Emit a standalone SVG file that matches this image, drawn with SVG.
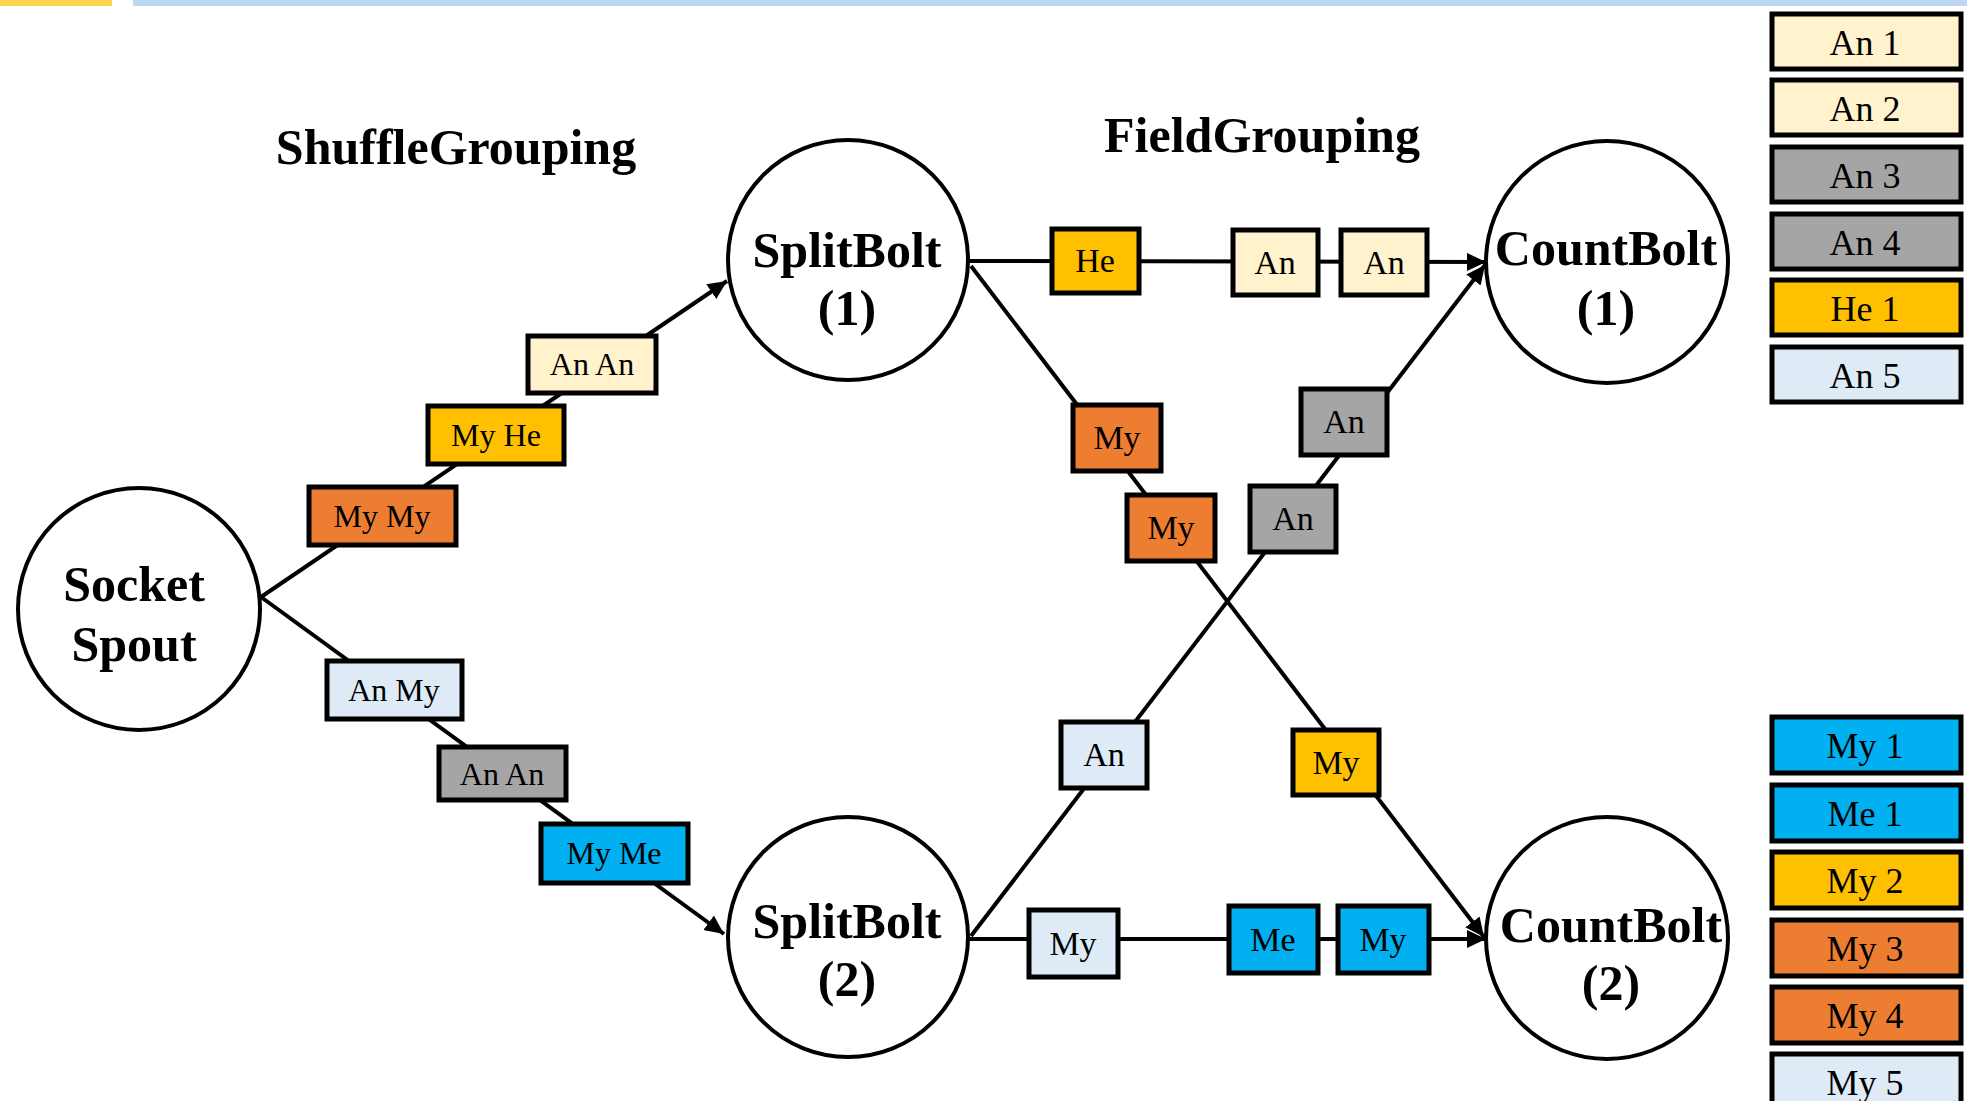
<svg xmlns="http://www.w3.org/2000/svg" width="1967" height="1101" viewBox="0 0 1967 1101">
<defs>
<marker id="arr" markerUnits="userSpaceOnUse" markerWidth="22" markerHeight="20" refX="19" refY="9" orient="auto">
<path d="M0,0 L19,9 L0,18 Z" fill="#000"/>
</marker>
<style>
.circ{fill:#fff;stroke:#000;stroke-width:4}
.box{stroke:#000;stroke-width:5}
.conn{stroke:#000;stroke-width:4;fill:none}
.big{font-family:"Liberation Serif",serif;font-weight:bold;font-size:50px;text-anchor:middle;fill:#000}
.lbl{font-family:"Liberation Serif",serif;font-size:32px;text-anchor:middle;fill:#000}
.lbl2{font-family:"Liberation Serif",serif;font-size:34px;text-anchor:middle;fill:#000}
.lbl3{font-family:"Liberation Serif",serif;font-size:36px;text-anchor:middle;fill:#000}
.cream{fill:#FFF2CC}.yel{fill:#FFC000}.org{fill:#ED7D31}.gry{fill:#A5A5A5}.lb{fill:#DEEBF7}.blu{fill:#00B0F0}
</style>
</defs>
<rect width="1967" height="1101" fill="#fff"/>
<rect x="0" y="0" width="112" height="6" fill="#FFD44F"/>
<rect x="133" y="0" width="1834" height="6" fill="#BDD7EE"/>

<text class="big" x="456" y="164">ShuffleGrouping</text>
<text class="big" x="1262" y="152">FieldGrouping</text>

<g id="connectors">
<line class="conn" x1="261" y1="597" x2="727" y2="281" marker-end="url(#arr)"/>
<line class="conn" x1="261" y1="597" x2="724" y2="934" marker-end="url(#arr)"/>
<line class="conn" x1="969" y1="261" x2="1486" y2="262" marker-end="url(#arr)"/>
<line class="conn" x1="971" y1="266" x2="1484" y2="937" marker-end="url(#arr)"/>
<line class="conn" x1="971" y1="936" x2="1485" y2="265" marker-end="url(#arr)"/>
<line class="conn" x1="969" y1="939" x2="1486" y2="939" marker-end="url(#arr)"/>
</g>

<g id="socket-spout"><circle class="circ" cx="139" cy="609" r="121"/><text class="big" x="134" y="601">Socket</text><text class="big" x="134" y="661">Spout</text></g>
<g id="splitbolt-1"><circle class="circ" cx="848" cy="260" r="120"/><text class="big" x="847" y="267">SplitBolt</text><text class="big" x="847" y="325">(1)</text></g>
<g id="splitbolt-2"><circle class="circ" cx="848" cy="937" r="120"/><text class="big" x="847" y="938">SplitBolt</text><text class="big" x="847" y="996">(2)</text></g>
<g id="countbolt-1"><circle class="circ" cx="1607" cy="262" r="121"/><text class="big" x="1606" y="265">CountBolt</text><text class="big" x="1606" y="325">(1)</text></g>
<g id="countbolt-2"><circle class="circ" cx="1607" cy="938" r="121"/><text class="big" x="1611" y="942">CountBolt</text><text class="big" x="1611" y="1000">(2)</text></g>

<g id="t-mymy"><rect class="box org" x="309" y="487" width="147" height="58"/><text class="lbl" x="382" y="527">My My</text></g>
<g id="t-myhe"><rect class="box yel" x="428" y="406" width="136" height="58"/><text class="lbl" x="496" y="446">My He</text></g>
<g id="t-anan1"><rect class="box cream" x="528" y="336" width="128" height="57"/><text class="lbl" x="592" y="375">An An</text></g>
<g id="t-anmy"><rect class="box lb" x="327" y="661" width="135" height="58"/><text class="lbl" x="394" y="701">An My</text></g>
<g id="t-anan2"><rect class="box gry" x="439" y="747" width="127" height="53"/><text class="lbl" x="502" y="785">An An</text></g>
<g id="t-myme"><rect class="box blu" x="541" y="824" width="147" height="59"/><text class="lbl" x="614" y="864">My Me</text></g>

<g id="f-he"><rect class="box yel" x="1052" y="229" width="87" height="64"/><text class="lbl2" x="1095" y="272">He</text></g>
<g id="f-an1"><rect class="box cream" x="1233" y="230" width="85" height="65"/><text class="lbl2" x="1275" y="274">An</text></g>
<g id="f-an2"><rect class="box cream" x="1341" y="230" width="86" height="65"/><text class="lbl2" x="1384" y="274">An</text></g>
<g id="f-my1"><rect class="box org" x="1073" y="405" width="88" height="66"/><text class="lbl2" x="1117" y="449">My</text></g>
<g id="f-my2"><rect class="box org" x="1127" y="495" width="88" height="66"/><text class="lbl2" x="1171" y="539">My</text></g>
<g id="f-an3"><rect class="box gry" x="1301" y="389" width="86" height="66"/><text class="lbl2" x="1344" y="433">An</text></g>
<g id="f-an4"><rect class="box gry" x="1250" y="486" width="86" height="66"/><text class="lbl2" x="1293" y="530">An</text></g>
<g id="f-an5"><rect class="box lb" x="1061" y="722" width="86" height="66"/><text class="lbl2" x="1104" y="766">An</text></g>
<g id="f-my3"><rect class="box yel" x="1293" y="730" width="86" height="65"/><text class="lbl2" x="1336" y="774">My</text></g>
<g id="f-my4"><rect class="box lb" x="1029" y="910" width="89" height="67"/><text class="lbl2" x="1073" y="955">My</text></g>
<g id="f-me"><rect class="box blu" x="1229" y="906" width="89" height="67"/><text class="lbl2" x="1273" y="951">Me</text></g>
<g id="f-my5"><rect class="box blu" x="1338" y="906" width="91" height="67"/><text class="lbl2" x="1383" y="951">My</text></g>

<g id="legend">
<g id="lg-an1"><rect class="box cream" x="1772" y="14" width="189" height="55"/><text class="lbl3" x="1865" y="55">An 1</text></g>
<g id="lg-an2"><rect class="box cream" x="1772" y="80" width="189" height="55"/><text class="lbl3" x="1865" y="121">An 2</text></g>
<g id="lg-an3"><rect class="box gry" x="1772" y="147" width="189" height="55"/><text class="lbl3" x="1865" y="188">An 3</text></g>
<g id="lg-an4"><rect class="box gry" x="1772" y="214" width="189" height="55"/><text class="lbl3" x="1865" y="255">An 4</text></g>
<g id="lg-he1"><rect class="box yel" x="1772" y="280" width="189" height="55"/><text class="lbl3" x="1865" y="321">He 1</text></g>
<g id="lg-an5"><rect class="box lb" x="1772" y="347" width="189" height="55"/><text class="lbl3" x="1865" y="388">An 5</text></g>
<g id="lg-my1"><rect class="box blu" x="1772" y="717" width="189" height="56"/><text class="lbl3" x="1865" y="758">My 1</text></g>
<g id="lg-me1"><rect class="box blu" x="1772" y="785" width="189" height="56"/><text class="lbl3" x="1865" y="826">Me 1</text></g>
<g id="lg-my2"><rect class="box yel" x="1772" y="852" width="189" height="56"/><text class="lbl3" x="1865" y="893">My 2</text></g>
<g id="lg-my3"><rect class="box org" x="1772" y="920" width="189" height="56"/><text class="lbl3" x="1865" y="961">My 3</text></g>
<g id="lg-my4"><rect class="box org" x="1772" y="987" width="189" height="56"/><text class="lbl3" x="1865" y="1028">My 4</text></g>
<g id="lg-my5"><rect class="box lb" x="1772" y="1054" width="189" height="56"/><text class="lbl3" x="1865" y="1095">My 5</text></g>
</g>
</svg>
